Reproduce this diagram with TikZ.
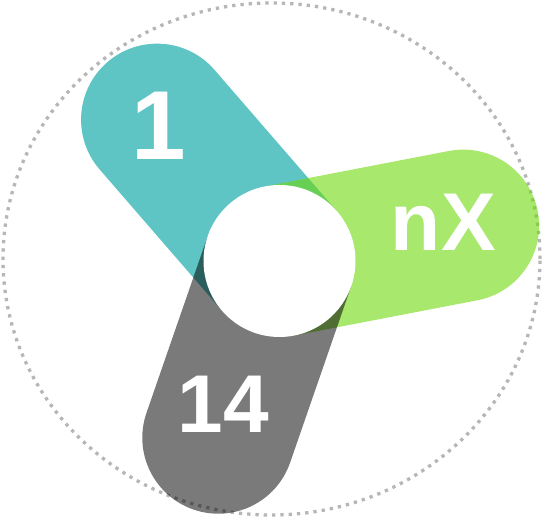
\documentclass[tikz,border=0pt]{standalone}
\usepackage{fontspec}
\setmainfont{Liberation Sans}
\definecolor{tealc}{RGB}{94,196,196}
\definecolor{greenc}{RGB}{110,217,10}
\definecolor{ringc}{RGB}{182,182,182}
\tikzset{
  ring/.style={draw=ringc, line width=3.3pt, dash pattern=on 3.3pt off 5pt},
  lbl/.style={text=white, inner sep=0pt},
  bigfont/.style={font=\bfseries\fontsize{98}{98}\selectfont},
  midfont/.style={font=\bfseries\fontsize{82}{82}\selectfont},
}
\newcommand{\pillpath}{(0,-76) -- (187,-76) arc[start angle=-90,end angle=90,radius=76pt] -- (0,76) -- cycle}
\begin{document}
\begin{tikzpicture}[x=1pt,y=1pt]
\useasboundingbox (0,0) rectangle (543,518);
% dotted ring
\draw[ring] (271.5,259) ellipse[x radius=268.5pt, y radius=256pt];
% pills
\begin{scope}[shift={(279.5,257)}, rotate=130.9]
  \fill[tealc] \pillpath;
\end{scope}
\begin{scope}[shift={(279.5,257)}, rotate=10.9]
  \fill[greenc, fill opacity=0.6] \pillpath;
\end{scope}
\begin{scope}[shift={(279.5,257)}, rotate=250.9]
  \fill[black, fill opacity=0.52] \pillpath;
\end{scope}
% hub
\node[circle, fill=white, minimum size=152pt, inner sep=0pt] (hub) at (279.5,257) {};
% labels
\node[lbl, bigfont] (one) at (158.8,392.3) {1};
\node[lbl, midfont] (nx) at (443.3,295.5) {nX};
\node[lbl, midfont] (ft) at (223.3,114) {14};
\end{tikzpicture}
\end{document}
